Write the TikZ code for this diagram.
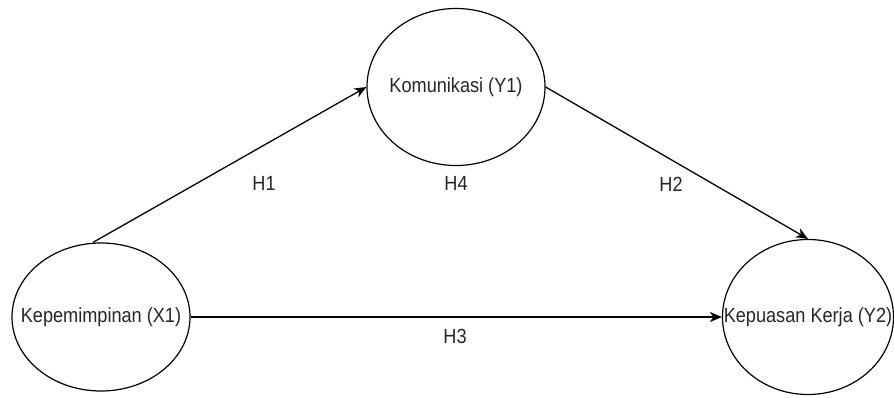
\documentclass[tikz,border=0pt]{standalone}
\usepackage{fontspec}
\setmainfont{Liberation Sans}
\usetikzlibrary{arrows.meta,shapes.geometric}

\tikzset{
  construct/.style={draw=black, line width=1.2pt, ellipse, inner sep=0pt},
  ctext/.style={text=black!85, font=\fontsize{20.5}{22}\selectfont, xscale=0.885, inner sep=0pt},
  hlabel/.style={text=black!85, font=\fontsize{20.5}{22}\selectfont, xscale=0.885, inner sep=0pt},
  hpath/.style={draw=black, line width=1.3pt,
    -{Stealth[length=12pt, width=10pt, inset=3.5pt]}},
}

\begin{document}
\begin{tikzpicture}[x=1pt, y=1pt]
  \useasboundingbox (0,0) rectangle (894,397);

  % latent constructs
  \node[construct, minimum width=178pt, minimum height=148pt] (L) at (101,80) {};
  \node[construct, minimum width=178pt, minimum height=157pt] (T) at (456,310) {};
  \node[construct, minimum width=171pt, minimum height=155pt] (R) at (808,80) {};

  \node[ctext] (Lt) at (L) {Kepemimpinan (X1)};
  \node[ctext] (Tt) at (T) {Komunikasi (Y1)};
  \node[ctext] (Rt) at (R) {Kepuasan Kerja (Y2)};

  % hypothesised paths
  \draw[hpath] ([xshift=-8pt]L.north) -- (T.west);
  \draw[hpath] (T.east) -- (R.north);
  \draw[hpath] (L.east) -- (R.west);

  % hypothesis labels
  \node[hlabel] (h1) at (264,214) {H1};
  \node[hlabel] (h4) at (456,214) {H4};
  \node[hlabel] (h2) at (671,213) {H2};
  \node[hlabel] (h3) at (455,61) {H3};
\end{tikzpicture}
\end{document}
